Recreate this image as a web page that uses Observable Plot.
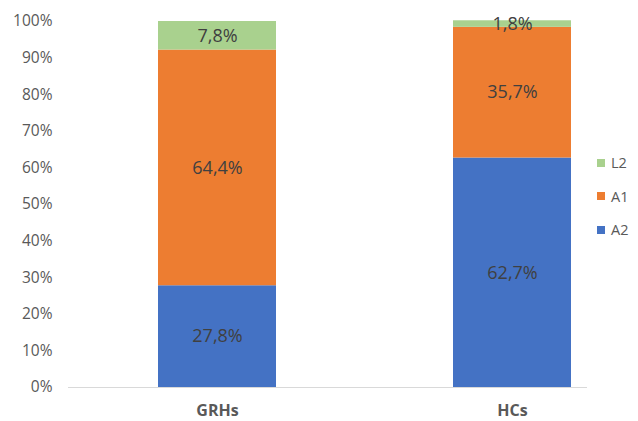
<!DOCTYPE html>
<html>
<head>
<meta charset="utf-8">
<script src="https://cdn.jsdelivr.net/npm/d3@7"></script>
<script src="https://cdn.jsdelivr.net/npm/@observablehq/plot@0.6"></script>
<style>
  html, body { margin: 0; padding: 0; background: #fff; }
  #chart { position: relative; width: 638px; height: 421px; font-family: "Open Sans", sans-serif; }
  .legend { position: absolute; left: 597px; top: 146px; font-size: 14.5px; color: #595959; }
  .legend div { display: flex; align-items: center; height: 33.5px; }
  .legend span.sw { display: inline-block; width: 8px; height: 8px; margin-right: 6px; }
</style>
</head>
<body>
<div id="chart"></div>
<script>
// Groups along the x axis
const groups = ["GRHs", "HCs"];
// Series, stacked bottom to top
const series = ["A2", "A1", "L2"];
const colors = ["#4472c4", "#ed7d31", "#a9d18e"];
// Percent share of each series per group
const a2Values = [27.8, 62.7];
const a1Values = [64.4, 35.7];
const l2Values = [7.8, 1.8];
// Y axis ticks
const yTicks = [0, 10, 20, 30, 40, 50, 60, 70, 80, 90, 100];

const valuesBySeries = { A2: a2Values, A1: a1Values, L2: l2Values };
const rows = [];
for (const s of series) {
  groups.forEach((g, i) => rows.push({ group: g, series: s, value: valuesBySeries[s][i] }));
}
const fmt = v => v.toFixed(1).replace(".", ",") + "%";

const plot = Plot.plot({
  width: 638,
  height: 421,
  marginTop: 21,
  marginBottom: 34,
  marginLeft: 68,
  marginRight: 51,
  style: { fontFamily: "Open Sans, sans-serif", fontSize: "13px", color: "#595959", background: "#fff" },
  x: { domain: groups, range: [98, 630], paddingInner: 0.6, paddingOuter: 0.2, label: null },
  y: { domain: [0, 100], ticks: yTicks, label: null },
  color: { domain: series, range: colors },
  marks: [
    Plot.barY(rows, Plot.stackY({ order: series, x: "group", y: "value", z: "series", fill: "series" })),
    Plot.text(rows, Plot.stackY({
      order: series, x: "group", y: "value", z: "series", text: d => fmt(d.value),
      fill: "#404040", fontSize: 18
    })),
    Plot.ruleY([0], { stroke: "#d9d9d9", strokeWidth: 1 }),
    Plot.axisY({ ticks: yTicks, tickSize: 0, tickPadding: 16, tickFormat: d => d + "%", fill: "#595959", fontSize: 15.5 }),
    Plot.axisX({ tickSize: 0, tickPadding: 17, fontWeight: "bold", fill: "#595959", fontSize: 16 })
  ]
});
document.getElementById("chart").appendChild(plot);

// Legend, listed top to bottom as L2, A1, A2
const legend = document.createElement("div");
legend.className = "legend";
for (const s of [...series].reverse()) {
  const item = document.createElement("div");
  const sw = document.createElement("span");
  sw.className = "sw";
  sw.style.background = colors[series.indexOf(s)];
  item.appendChild(sw);
  item.appendChild(document.createTextNode(s));
  legend.appendChild(item);
}
document.getElementById("chart").appendChild(legend);
</script>
</body>
</html>
